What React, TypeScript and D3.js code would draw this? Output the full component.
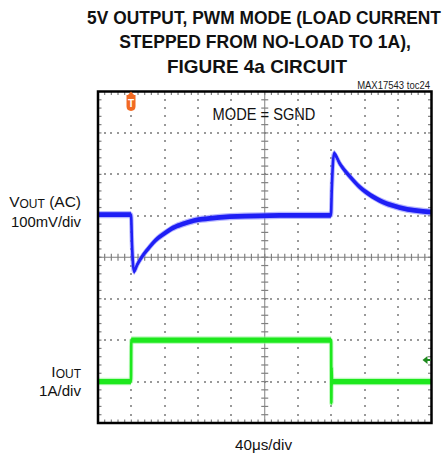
import React, { useEffect, useRef } from "react";
import * as d3 from "d3";

const titleLines = [
  "5V OUTPUT, PWM MODE (LOAD CURRENT",
  "STEPPED FROM NO-LOAD TO 1A),",
  "FIGURE 4a CIRCUIT",
];
const partLabel = "MAX17543 toc24";
const modeLabel = "MODE = SGND";
const timeLabel = "40μs/div";

// time in µs from the left edge of the screen (40µs/div)
const vTime = [0, 39.6, 40.8, 43.2, 47, 53, 60, 68, 78, 89, 101, 116, 134, 158, 194, 242, 279.4, 280.4, 283, 290, 302, 312, 323, 342, 362, 380, 400];
// output voltage, AC coupled, mV
const vOut = [3, 3, -70, -134, -118, -98, -80, -61, -45, -30, -20, -11, -6, -2, 0, 1, 1, 64, 150, 126, 95, 73, 55, 33, 20, 13, 9];

const iTime = [0, 39.6, 39.9, 279.6, 279.9, 280.2, 280.7, 281.4, 400];
// load current, A
const iOut = [0, 0, 1, 1, -0.52, 0.35, -0.05, 0, 0];

const W = 446;
const H = 460;

export default function App() {
  const svgRef = useRef<SVGSVGElement>(null);

  useEffect(() => {
    const svg = d3.select(svgRef.current);
    svg.selectAll("*").remove();

    const left = 98, right = 431.5, top = 91.5, bottom = 423;
    const x = d3.scaleLinear().domain([0, 400]).range([left, right]);
    const y = d3.scaleLinear().domain([-4, 4]).range([bottom, top]);
    const vDiv = (mv: number) => 1 + mv / 100;
    const iDiv = (a: number) => -3 + a;

    svg.append("rect").attr("width", W).attr("height", H).attr("fill", "#fff");

    // squeeze a text horizontally to a given width (narrow-font look)
    const squeeze = (cx: number, yy: number, s: string, size: number, w: number, bold: boolean, anchor = "middle") => {
      const t = svg.append("text")
        .attr("x", 0).attr("y", 0)
        .attr("text-anchor", anchor)
        .attr("font-family", "'Liberation Sans', Arial, sans-serif")
        .attr("font-weight", bold ? "bold" : "normal")
        .attr("font-size", size)
        .attr("fill", "#111")
        .text(s);
      const natural = (t.node() as SVGTextElement).getComputedTextLength() || w;
      t.attr("transform", `translate(${cx},${yy}) scale(${w / natural},1)`);
      return t;
    };

    // title
    const titleWidths = [354, 292, 180];
    const titleCx = [264, 265, 257];
    titleLines.forEach((t, i) => squeeze(titleCx[i], 24 + i * 24.4, t, 19, titleWidths[i], true));

    squeeze(430, 88.5, partLabel, 11, 73, false, "end").attr("fill", "#222");

    const g = svg.append("g");
    const minorX = d3.range(0, 400.01, 8);
    const minorY = d3.range(-4, 4.001, 0.2);
    const gridColor = "#808080";

    // dotted grid
    const dots: [number, number][] = [];
    d3.range(40, 400, 40).filter((t) => t !== 200).forEach((t) => {
      minorY.slice(1, -1).forEach((v) => dots.push([x(t), y(v)]));
    });
    d3.range(-3, 4, 1).filter((v) => v !== 0).forEach((v) => {
      minorX.slice(1, -1).forEach((t) => dots.push([x(t), y(v)]));
    });
    g.selectAll("rect.dot").data(dots).enter().append("rect")
      .attr("class", "dot")
      .attr("x", (d) => Math.round(d[0] - 1))
      .attr("y", (d) => Math.round(d[1] - 1))
      .attr("width", 2).attr("height", 2)
      .attr("shape-rendering", "crispEdges")
      .attr("fill", "#999");

    // center axes with ticks
    g.append("line").attr("x1", x(0)).attr("x2", x(400)).attr("y1", y(0)).attr("y2", y(0))
      .attr("stroke", gridColor).attr("stroke-width", 1);
    g.append("line").attr("x1", x(200)).attr("x2", x(200)).attr("y1", y(-4)).attr("y2", y(4))
      .attr("stroke", gridColor).attr("stroke-width", 1);
    g.selectAll("line.cx").data(minorX).enter().append("line").attr("class", "cx")
      .attr("x1", (t) => x(t)).attr("x2", (t) => x(t))
      .attr("y1", y(0) - 3.5).attr("y2", y(0) + 3.5)
      .attr("stroke", gridColor).attr("stroke-width", 1.2);
    g.selectAll("line.cy").data(minorY).enter().append("line").attr("class", "cy")
      .attr("y1", (v) => y(v)).attr("y2", (v) => y(v))
      .attr("x1", x(200) - 3.5).attr("x2", x(200) + 3.5)
      .attr("stroke", gridColor).attr("stroke-width", 1.2);

    // edge ticks
    g.selectAll("line.et").data(minorX).enter().append("line").attr("class", "et")
      .attr("x1", (t) => x(t)).attr("x2", (t) => x(t))
      .attr("y1", top).attr("y2", top + 3.5)
      .attr("stroke", gridColor).attr("stroke-width", 1.2);
    g.selectAll("line.eb").data(minorX).enter().append("line").attr("class", "eb")
      .attr("x1", (t) => x(t)).attr("x2", (t) => x(t))
      .attr("y1", bottom).attr("y2", bottom - 3.5)
      .attr("stroke", gridColor).attr("stroke-width", 1.2);
    g.selectAll("line.el").data(minorY).enter().append("line").attr("class", "el")
      .attr("y1", (v) => y(v)).attr("y2", (v) => y(v))
      .attr("x1", left).attr("x2", left + 3.5)
      .attr("stroke", gridColor).attr("stroke-width", 1.2);
    g.selectAll("line.er").data(minorY).enter().append("line").attr("class", "er")
      .attr("y1", (v) => y(v)).attr("y2", (v) => y(v))
      .attr("x1", right).attr("x2", right - 3.5)
      .attr("stroke", gridColor).attr("stroke-width", 1.2);

    // traces
    svg.append("defs").append("clipPath").attr("id", "scr")
      .append("rect").attr("x", left).attr("y", top)
      .attr("width", right - left).attr("height", bottom - top);
    const tr = svg.append("g").attr("clip-path", "url(#scr)");

    const drawTrace = (ts: number[], vals: number[], toDiv: (n: number) => number, outer: string, core: string, h: number) => {
      const pts = ts.map((t, i) => [x(t), y(toDiv(vals[i]))] as [number, number]);
      const band = (hh: number) => d3.area<[number, number]>()
        .x((d) => d[0]).y0((d) => d[1] - hh).y1((d) => d[1] + hh)
        .curve(d3.curveMonotoneX)(pts);
      const line = d3.line<[number, number]>().x((d) => d[0]).y((d) => d[1]).curve(d3.curveMonotoneX)(pts);
      tr.append("path").attr("d", band(h + 1.2)).attr("fill", outer).attr("opacity", 0.55);
      tr.append("path").attr("d", line).attr("fill", "none").attr("stroke", outer)
        .attr("stroke-width", 4.5).attr("opacity", 0.55);
      tr.append("path").attr("d", band(h)).attr("fill", core);
      tr.append("path").attr("d", line).attr("fill", "none").attr("stroke", core)
        .attr("stroke-width", 2.6).attr("stroke-linejoin", "round");
    };
    drawTrace(vTime, vOut, vDiv, "#7b7bff", "#1f1ff5", 2.4);
    drawTrace(iTime, iOut, iDiv, "#8cf58c", "#1ee81e", 2.6);

    // frame
    svg.append("rect").attr("x", left).attr("y", top)
      .attr("width", right - left).attr("height", bottom - top)
      .attr("fill", "none").attr("stroke", "#000").attr("stroke-width", 2.5);

    // trigger marker
    const tx = x(39.6);
    svg.append("path")
      .attr("d", `M${tx},${top} L${tx + 3},${top + 3.5} L${tx + 4.5},${top + 3.5} L${tx + 4.5},${top + 15} Q${tx + 4.5},${top + 19} ${tx},${top + 19.5} Q${tx - 4.5},${top + 19} ${tx - 4.5},${top + 15} L${tx - 4.5},${top + 3.5} L${tx - 3},${top + 3.5} Z`)
      .attr("fill", "#f26a22");
    svg.append("text").attr("x", tx).attr("y", top + 15)
      .attr("text-anchor", "middle").attr("font-family", "'Liberation Sans', Arial, sans-serif")
      .attr("font-weight", "bold").attr("font-size", 10).attr("fill", "#fff").text("T");

    // channel 2 reference marker
    const my = 360;
    svg.append("path")
      .attr("d", `M${right - 9},${my} L${right - 4},${my - 4} L${right - 4},${my + 4} Z`)
      .attr("fill", "#1e8a1e");
    svg.append("line").attr("x1", right - 5).attr("x2", right - 1).attr("y1", my).attr("y2", my)
      .attr("stroke", "#1e8a1e").attr("stroke-width", 2);

    // on-screen label
    squeeze(264, 119.5, modeLabel, 16, 103, false);

    // channel labels
    const lab = (yy: number, main: string, sub: string, rest: string) => {
      const t = svg.append("text").attr("x", 81).attr("y", yy)
        .attr("text-anchor", "end").attr("font-family", "'Liberation Sans', Arial, sans-serif")
        .attr("font-size", 15.5).attr("fill", "#111");
      t.append("tspan").text(main);
      t.append("tspan").attr("font-size", 12).attr("dy", 1).text(sub);
      if (rest) t.append("tspan").attr("dy", -1).text(rest);
    };
    lab(207, "V", "OUT", " (AC)");
    lab(377, "I", "OUT", "");
    squeeze(81, 227, "100mV/div", 15.5, 70, false, "end");
    squeeze(81, 395.5, "1A/div", 15.5, 42, false, "end");

    squeeze(263.5, 449.5, timeLabel, 15.5, 57, false);
  }, []);

  return (
    <svg
      ref={svgRef}
      width={W}
      height={H}
      style={{ position: "absolute", left: 0, top: 0, display: "block" }}
    />
  );
}
